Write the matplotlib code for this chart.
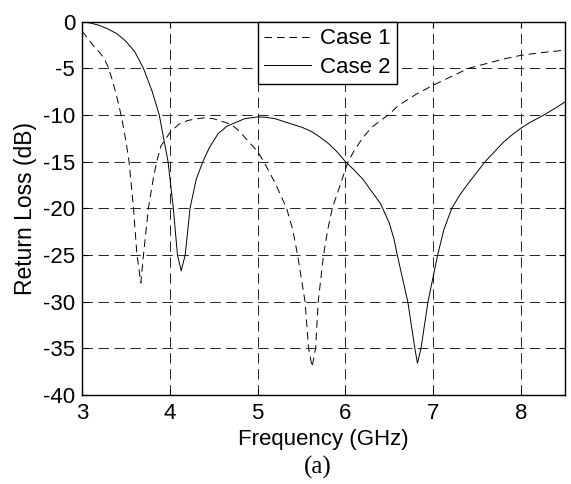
import numpy as np
import matplotlib
matplotlib.use("Agg")
import matplotlib.pyplot as plt

plt.rcParams['font.family'] = ['Liberation Sans', 'DejaVu Sans']
plt.rcParams['axes.unicode_minus'] = False
plt.rcParams['lines.scale_dashes'] = False

# Case 1 (dashed)
f1 = [3.0, 3.05, 3.1, 3.15, 3.2, 3.25, 3.3, 3.35, 3.4, 3.45, 3.5, 3.536, 3.585, 3.624, 3.67,
      3.70, 3.756, 3.81, 3.85, 3.9, 4.0, 4.1, 4.2, 4.3, 4.4, 4.5, 4.6, 4.7, 4.8, 4.9, 5.0,
      5.07, 5.2, 5.33, 5.4, 5.455, 5.54, 5.58, 5.62, 5.66, 5.69, 5.75, 5.8, 5.85, 5.9, 6.03,
      6.1, 6.2, 6.3, 6.4, 6.5, 6.6, 6.8, 7.0, 7.2, 7.4, 7.6, 7.8, 8.0, 8.2, 8.5]
db1 = [-1.0, -1.6, -2.2, -2.8, -3.3, -3.9, -4.9, -6.4, -8.2, -10.2, -12.8, -15.0, -19.8, -24.8, -28.0,
       -25.0, -20.0, -16.9, -15.0, -13.3, -11.9, -11.0, -10.6, -10.4, -10.3, -10.4, -10.7, -11.0, -11.8, -12.9, -13.9,
       -15.0, -17.3, -20.0, -22.3, -25.0, -30.0, -35.0, -37.0, -35.0, -30.0, -25.0, -22.2, -20.0, -18.6, -15.0,
       -13.8, -12.4, -11.3, -10.6, -9.9, -9.0, -7.8, -6.8, -5.9, -5.0, -4.5, -4.0, -3.6, -3.35, -3.05]

# Case 2 (solid)
f2 = [3.0, 3.1, 3.2, 3.3, 3.4, 3.5, 3.6, 3.7, 3.8, 3.88, 3.93, 3.98, 4.04, 4.087, 4.13,
      4.175, 4.23, 4.3, 4.376, 4.45, 4.55, 4.65, 4.75, 4.85, 5.0, 5.1, 5.2, 5.3, 5.4, 5.5,
      5.6, 5.7, 5.8, 5.9, 6.0, 6.1, 6.2, 6.3, 6.4, 6.5, 6.55, 6.59, 6.65, 6.71, 6.79, 6.82,
      6.86, 6.94, 7.05, 7.12, 7.21, 7.3, 7.4, 7.5, 7.59, 7.7, 7.8, 7.9, 8.0, 8.1, 8.26, 8.4, 8.5]
db2 = [0.0, -0.15, -0.4, -0.8, -1.3, -2.1, -3.2, -5.0, -7.5, -10.0, -12.5, -15.0, -20.0, -25.0, -26.7,
       -25.0, -20.0, -16.9, -15.0, -13.5, -12.0, -11.2, -10.8, -10.4, -10.2, -10.25, -10.4, -10.7, -11.0, -11.3,
       -11.7, -12.3, -13.0, -13.9, -15.0, -15.9, -16.9, -18.2, -19.5, -21.6, -23.2, -25.0, -27.5, -30.0, -35.0, -36.6,
       -35.0, -30.0, -25.0, -22.3, -20.0, -18.6, -17.3, -16.1, -15.0, -13.9, -12.9, -12.1, -11.4, -10.8, -10.0, -9.2, -8.6]

xticks = [3, 4, 5, 6, 7, 8]
yticks = [0, -5, -10, -15, -20, -25, -30, -35, -40]

fig = plt.figure(figsize=(5.71, 4.84), dpi=100)
ax = fig.add_axes([82/571, 1-395/484, (565-82)/571, (395-21.7)/484])

ax.plot(f1, db1, color='black', lw=0.7, linestyle=(0, (5.5, 3.5)), label='Case 1')
ax.plot(f2, db2, color='black', lw=0.7, label='Case 2')

ax.set_xlim(3, 8.5)
ax.set_ylim(-40, 0)
ax.set_xticks(xticks)
ax.set_yticks(yticks)
ax.grid(True, color='black', lw=0.6, linestyle=(0, (7.5, 4)))
ax.tick_params(direction='in', top=True, right=True, labelsize=16, length=4, width=0.8)
ax.tick_params(axis='x', pad=6)
ax.tick_params(axis='y', pad=5)
for s in ax.spines.values():
    s.set_linewidth(1.0)

ax.set_xlabel('Frequency (GHz)', fontsize=16, labelpad=3)
ax.set_ylabel('Return Loss (dB)', fontsize=16.5, labelpad=4)

leg = ax.legend(loc='upper left', bbox_to_anchor=(0.364, 1.0), borderaxespad=0,
                fontsize=16, handlelength=2.1, fancybox=False, framealpha=1,
                edgecolor='black', borderpad=0.3, labelspacing=0.33, handletextpad=0.4)
leg.get_frame().set_linewidth(1.0)

fig.text(318/571, 1-467/484, '(a)', fontsize=18, family=['Liberation Serif'],
         ha='center', va='center')

fig.savefig('out.png', dpi=100)
